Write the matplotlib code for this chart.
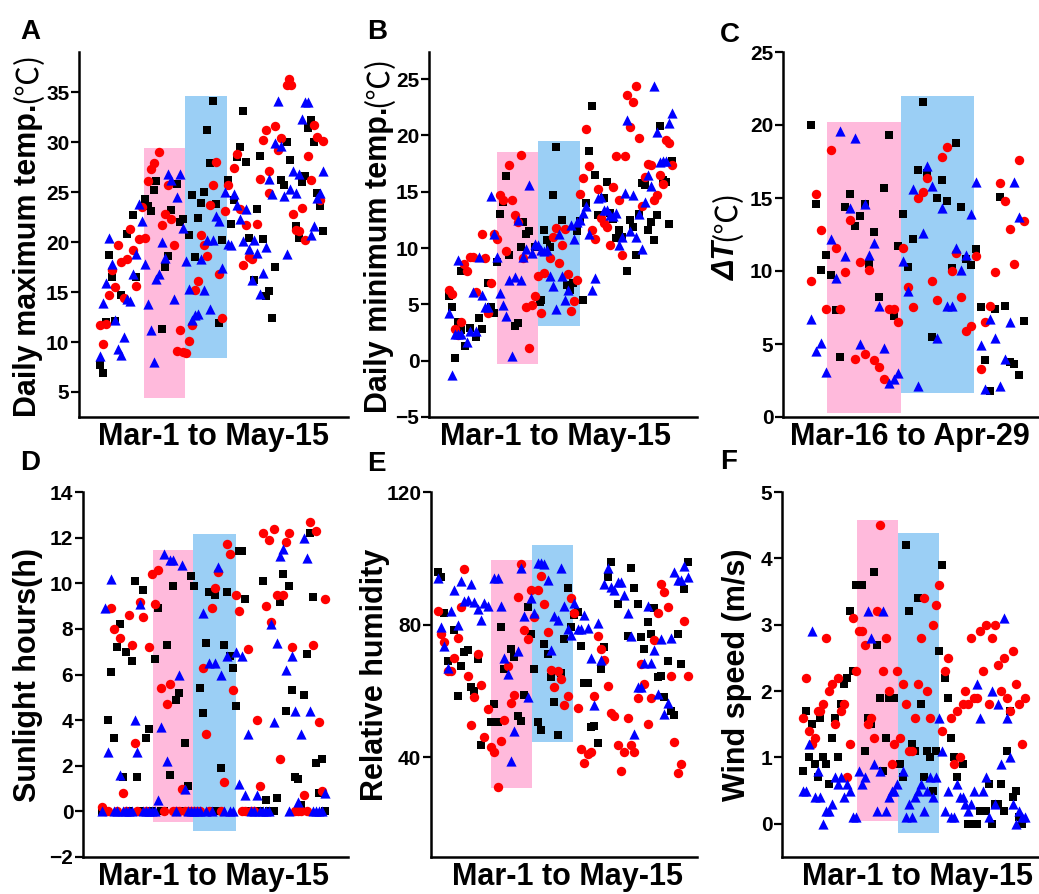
import matplotlib
matplotlib.use("Agg")
import matplotlib.pyplot as plt

plt.rcParams["font.family"] = ["Liberation Sans", "DejaVu Sans"]
plt.rcParams["font.weight"] = "bold"

# ---- A: daily maximum temperature, (day, value) ----
a_black = [(0, 7.7), (1, 6.9), (2, 12.0), (3, 18.7), (4, 16.5), (5, 12.1), (7, 14.7), (9, 20.8),
           (11, 22.7), (12, 16.5), (15, 24.3), (16, 23.6), (17, 23.1), (18, 25.2), (19, 26.1),
           (21, 11.3), (22, 17.5), (23, 18.6), (24, 23.2), (26, 25.8), (27, 22.0), (28, 22.3),
           (30, 20.7), (31, 24.7), (32, 18.5), (33, 22.4), (34, 23.9), (35, 25.0), (36, 31.2),
           (37, 27.9), (38, 34.1), (39, 23.8), (40, 11.9), (41, 20.2), (43, 26.2), (44, 21.8),
           (45, 24.2), (46, 28.5), (47, 29.5), (48, 33.1), (49, 28.0), (50, 20.4), (52, 16.2),
           (53, 23.3), (54, 28.6), (55, 20.3), (56, 14.6), (57, 15.1), (58, 12.4), (59, 17.5),
           (61, 26.2), (62, 25.7), (63, 30.0), (64, 28.2), (66, 21.6), (67, 20.4), (68, 26.0),
           (69, 26.6), (70, 31.4), (71, 32.2), (72, 30.0), (73, 24.9), (74, 23.6), (75, 21.1)]
a_red = [(0, 11.7), (1, 9.8), (2, 11.8), (3, 14.7), (4, 17.2), (5, 15.5), (6, 19.7), (7, 18.0),
         (8, 14.4), (9, 18.3), (10, 21.3), (11, 19.2), (12, 15.6), (13, 20.3), (14, 23.5),
         (15, 20.4), (16, 26.1), (17, 27.3), (18, 27.9), (20, 29.0), (21, 21.7), (22, 22.8),
         (23, 25.7), (24, 22.3), (25, 19.7), (26, 9.1), (27, 11.2), (28, 9.0), (29, 8.9),
         (30, 10.1), (31, 11.7), (32, 15.2), (33, 16.1), (34, 20.7), (35, 19.7), (36, 18.6),
         (37, 23.7), (38, 25.7), (39, 28.0), (40, 16.8), (41, 12.4), (42, 23.1), (43, 25.7),
         (45, 27.4), (46, 28.8), (47, 23.3), (48, 17.7), (49, 21.7), (50, 18.5), (51, 18.3),
         (53, 21.8), (54, 26.3), (55, 30.2), (56, 31.2), (57, 27.1), (57, 24.9), (59, 31.6),
         (60, 29.2), (61, 30.4), (63, 35.7), (63.5, 36.3), (64.2, 35.7), (65, 22.8), (66, 21.2),
         (67, 21.1), (68, 23.4), (69, 20.2), (70, 28.6), (71, 26.2), (72, 31.7), (73, 30.5),
         (74, 24.2), (75, 30.1)]
a_blue = [(0, 8.6), (1, 13.9), (2, 15.9), (3, 20.4), (4, 17.8), (5, 12.2), (6, 9.3), (7, 8.7),
          (8, 10.5), (9, 14.3), (10, 14.1), (11, 16.8), (12, 18.8), (13, 23.8), (14, 22.1),
          (15, 17.8), (16, 13.8), (17, 11.2), (18, 8.0), (19, 16.3), (20, 16.8), (21, 20.0),
          (22, 18.4), (23, 26.8), (24, 26.2), (25, 14.3), (26, 24.5), (27, 26.8), (28, 21.4),
          (29, 18.1), (30, 15.3), (31, 12.2), (32, 12.7), (33, 12.8), (34, 18.3), (35, 15.2),
          (36, 20.2), (37, 13.3), (38, 20.2), (39, 22.6), (40, 22.1), (41, 17.4), (42, 25.0),
          (43, 19.8), (44, 19.7), (45, 24.8), (46, 23.7), (47, 22.3), (48, 20.1), (49, 23.3),
          (50, 19.3), (51, 16.2), (52, 20.2), (53, 18.9), (54, 14.8), (55, 16.9), (56, 19.5),
          (57, 26.3), (58, 24.8), (59, 29.9), (60, 34.1), (61, 29.6), (62, 24.6), (63, 18.8),
          (64, 25.3), (65, 27.1), (66, 24.9), (67, 26.8), (68, 32.3), (69, 34.0), (70, 34.0),
          (71, 20.7), (72, 21.6), (73, 24.4), (74, 24.9), (75, 27.1)]

# ---- B: daily minimum temperature ----
b_black = [(0, 5.7), (1, 4.8), (2, 0.2), (3, 3.4), (4, 2.7), (4, 8.0), (5.4, 1.3), (7, 2.9),
           (9, 2.1), (10, 3.8), (11, 2.8), (13, 6.9), (14, 4.8), (15, 4.2), (16, 8.8), (17, 13.0),
           (18, 14.1), (19, 16.4), (20, 9.4), (22, 3.1), (23, 3.3), (24, 10.1), (25, 12.3),
           (26, 11.2), (27, 11.5), (29, 10.1), (30.5, 5.2), (31, 5.4), (32, 11.6), (33, 10.7),
           (34, 10.1), (35, 14.7), (36, 19.0), (38, 12.5), (39.5, 6.7), (40.6, 6.3), (41.8, 6.9),
           (43, 11.5), (44, 12.4), (45, 5.4), (46, 14.0), (47, 18.6), (48, 22.6), (49, 16.5),
           (50, 12.9), (52, 14.4), (53, 15.9), (54, 13.1), (55, 12.6), (56, 10.9), (57, 11.6),
           (58, 11.0), (60, 8.0), (61, 12.5), (62, 11.9), (63, 9.4), (64, 13.0), (65, 15.8),
           (66, 15.6), (67, 11.6), (68, 12.3), (69, 10.7), (70, 12.9), (71, 20.8), (72, 16.0),
           (73, 15.9), (74, 12.1), (75, 17.7)]
b_red = [(0, 6.3), (1, 5.9), (2, 2.8), (3, 2.3), (4, 3.4), (5, 8.6), (6, 8.0), (7, 9.2), (8, 9.2),
         (9, 6.1), (11, 11.2), (12, 9.1), (13, 4.2), (14, 6.9), (15, 11.2), (16, 10.8), (17, 14.7),
         (18, 14.3), (19, 9.7), (20, 17.4), (21, 14.3), (22, 12.9), (23, 12.3), (24, 18.3),
         (25, 9.1), (26, 4.8), (27, 1.1), (28, 4.9), (29, 5.7), (30, 7.5), (31, 4.2), (32, 7.8),
         (34, 9.1), (35, 11.0), (36, 11.8), (37, 8.7), (38, 10.3), (39, 11.7), (40, 7.7),
         (41, 4.4), (42, 5.3), (43, 7.2), (44, 14.8), (45, 16.2), (46, 20.6), (47, 17.3),
         (48, 11.6), (49, 10.8), (50, 15.2), (51, 12.7), (52, 12.2), (53, 11.9), (54, 10.3),
         (55, 15.4), (56, 18.2), (57, 14.3), (58, 9.4), (59, 18.2), (60, 23.6), (61, 20.7),
         (62, 23.0), (63, 24.4), (64, 19.8), (65, 13.7), (66, 16.3), (67, 17.5), (68, 17.4),
         (69, 14.3), (70, 14.7), (71, 16.5), (72, 15.7), (73, 19.6), (74, 19.3), (75, 17.4)]
b_blue = [(0, 4.2), (1, -1.3), (2, 2.4), (3, 2.4), (3, 8.9), (4, 2.4), (6, 1.7), (7, 2.6), (8, 6.1),
          (9, 2.6), (10, 9.2), (11, 5.8), (12, 4.8), (13, 4.8), (14, 14.6), (15, 11.2), (16, 9.2),
          (17, 6.0), (18, 4.9), (19, 4.0), (20, 7.2), (21, 0.4), (22, 7.4), (23, 12.5), (24, 7.2),
          (25, 9.2), (26, 9.9), (27, 15.6), (28, 9.6), (29, 10.4), (30, 10.3), (31, 9.8),
          (32, 9.7), (33, 9.8), (34, 7.5), (35, 6.6), (36, 4.6), (37, 11.2), (38, 7.5), (39, 5.4),
          (40, 6.3), (41, 12.0), (42, 10.8), (43, 12.3), (44, 12.5), (45, 13.1), (46, 13.7),
          (47, 11.2), (48, 6.3), (49, 7.3), (50, 14.4), (51, 14.5), (52, 13.4), (53, 13.4),
          (54, 12.9), (55, 12.8), (56, 13.1), (57, 10.3), (58, 11.0), (59, 14.9), (60, 21.4),
          (61, 11.5), (62, 14.7), (63, 11.0), (64, 13.0), (65, 9.9), (66, 14.1), (67, 16.5),
          (68, 15.5), (69, 24.4), (70, 20.3), (71, 17.6), (72, 17.7), (73, 17.7), (74, 21.1),
          (75, 22.0)]

# ---- C: diurnal temperature range, Mar-16 to Apr-29 ----
c_black = [(0, 20.0), (1, 14.6), (2, 10.1), (3, 11.1), (4, 9.7), (5, 7.3), (6, 4.1), (7, 14.4),
           (8, 15.3), (9, 13.1), (10, 13.8), (11, 14.6), (12, 10.5), (13, 12.7), (14, 8.2),
           (15, 15.7), (16, 19.3), (17, 6.9), (18, 11.7), (19, 13.9), (20, 10.3), (21, 12.2),
           (22, 16.9), (23, 21.6), (24, 16.7), (25, 5.5), (26, 15.0), (27, 16.2), (28, 14.8),
           (29, 10.2), (30, 18.8), (31, 14.4), (32, 10.8), (33, 10.4), (34, 11.5), (35, 7.5),
           (36, 3.9), (37, 1.8), (38, 7.4), (39, 15.1), (40, 7.6), (41, 3.8), (42, 3.6), (43, 2.9),
           (44, 6.6)]
c_red = [(0, 9.3), (1, 15.3), (2, 12.8), (3, 7.4), (4, 18.3), (5, 11.6), (6, 7.4), (7, 9.9),
         (8, 13.5), (9, 4.0), (10, 10.6), (11, 4.3), (12, 10.1), (13, 3.9), (14, 3.4), (15, 2.6),
         (16, 7.4), (17, 7.4), (18, 6.5), (19, 11.6), (20, 8.9), (21, 7.5), (22, 15.0), (23, 15.4),
         (24, 16.4), (25, 9.3), (26, 8.0), (27, 17.8), (28, 18.5), (29, 10.0), (30, 11.2),
         (31, 8.2), (32, 5.9), (33, 6.2), (34, 11.0), (35, 3.3), (36, 6.5), (37, 7.6), (38, 9.9),
         (39, 16.0), (40, 14.8), (41, 12.9), (42, 10.5), (43, 17.6), (44, 13.4)]
c_blue = [(0, 6.7), (1, 4.5), (2, 5.1), (3, 3.1), (4, 12.2), (5, 9.5), (6, 19.6), (7, 11.0),
          (8, 14.3), (9, 19.1), (10, 5.0), (11, 14.6), (12, 11.1), (13, 11.9), (14, 7.6), (15, 4.7),
          (16, 2.3), (17, 2.6), (18, 3.0), (19, 10.7), (20, 8.6), (21, 15.6), (22, 2.1), (23, 12.6),
          (24, 17.2), (25, 15.8), (26, 5.4), (27, 14.3), (28, 7.6), (29, 7.6), (30, 11.6),
          (31, 10.1), (32, 11.1), (33, 13.9), (34, 16.1), (35, 4.9), (36, 1.9), (37, 6.7),
          (38, 5.4), (39, 2.1), (40, 4.0), (41, 6.5), (42, 16.1), (43, 13.7)]

# ---- D: sunlight hours, one value per day ----
d_black = [0, 0, 4.0, 6.1, 3.2, 7.2, 8.2, 1.5, 7.0, 0, 6.6, 10.1, 1.5, 0, 9.7, 3.2, 3.6, 0, 6.7,
           8.9, 0, 0, 7.3, 1.6, 9.9, 4.9, 5.2, 0, 3.0, 1.1, 10.3, 9.9, 0, 5.4, 4.3, 7.4, 9.6, 0,
           9.5, 0, 1.9, 7.3, 9.6, 6.8, 6.3, 4.6, 11.4, 11.4, 9.3, 0, 0, 0, 0, 0, 10.1, 0.5, 0, 0,
           0, 0.6, 9.2, 10.4, 4.4, 9.9, 5.3, 1.5, 1.4, 0.3, 5.1, 6.9, 12.2, 9.4, 2.1, 0.8, 2.3, 0]
d_red = [0.2, 0, 0, 8.9, 8.0, 0, 7.6, 0.8, 0, 8.6, 7.3, 3.0, 0, 9.2, 8.5, 0, 7.2, 10.4, 9.1,
         10.6, 5.4, 0, 4.7, 5.6, 0, 0, 0, 1.0, 0, 0, 0, 0, 0, 0, 6.3, 3.4, 0, 8.9, 9.8, 10.5, 0,
         1.3, 11.7, 11.3, 5.3, 9.5, 8.8, 0, 0, 7.1, 0, 0, 4.0, 1.1, 12.2, 9.0, 11.9, 8.3, 12.4,
         9.5, 2.3, 9.5, 11.8, 12.2, 7.2, 0, 0, 0, 0.7, 0, 12.7, 7.3, 12.3, 3.9, 0.9, 9.3]
d_blue = [0, 8.9, 2.6, 10.2, 0, 0, 1.6, 0, 0, 0, 0, 4.0, 2.6, 9.1, 0, 0, 0, 0, 0, 0.5, 3.7, 11.3,
          2.2, 11.0, 11.0, 0, 6.0, 10.8, 1.0, 0, 0, 0, 0, 0, 8.7, 0, 6.5, 0, 6.5, 10.7, 6.0, 0,
          6.8, 0, 0, 7.0, 1.2, 6.8, 0.7, 3.4, 0, 0, 0.7, 0, 0, 0, 0, 8.2, 3.9, 7.4, 11.2, 11.5,
          6.2, 0, 6.8, 4.4, 0.4, 3.4, 12.0, 11.1, 4.4, 0, 0, 0, 0, 0.8]

# ---- E: relative humidity ----
e_black = [(0, 95.9), (1, 94.4), (2, 83.4), (3, 69.1), (5, 78.5), (6, 58.6), (7, 67.6), (8, 71.8),
           (9, 72.5), (10, 61.3), (11, 60.1), (12, 69.8), (13, 43.9), (16, 50.7), (17, 56.2),
           (18, 50.7), (19, 79.3), (20, 66.8), (22, 72.8), (23, 70.3), (24, 52.4), (25, 50.9),
           (26, 58.8), (27, 85.2), (28, 77.3), (29, 66.6), (30, 50.7), (31, 48.2), (32, 74.1),
           (33, 71.3), (34, 64.1), (35, 56.7), (36, 46.7), (37, 65.5), (38, 75.6), (39, 91.2),
           (40, 79.3), (41, 82.9), (42, 83.9), (43, 73.6), (44, 62.3), (45, 62.3), (46, 49.2),
           (47, 49.5), (48, 44.5), (49, 66.6), (50, 73.3), (51, 94.4), (52, 98.9), (54, 86.2),
           (57, 76.6), (58, 97.1), (59, 91.2), (60, 86.2), (61, 76.3), (62, 72.8), (63, 80.8),
           (64, 77.3), (65, 84.9), (66, 64.1), (67, 64.6), (68, 58.3), (69, 69.1), (70, 54.0),
           (71, 52.7), (72, 77.3), (73, 68.3), (74, 90.9), (75, 98.9)]
e_red = [(0, 84.2), (1, 77.3), (2, 74.8), (3, 66.0), (4, 66.0), (5, 70.1), (6, 76.1), (7, 85.4),
         (8, 96.7), (9, 64.6), (10, 49.9), (11, 58.1), (12, 71.1), (13, 61.8), (14, 46.2),
         (15, 54.7), (16, 43.2), (17, 41.7), (18, 31.0), (19, 45.0), (20, 51.4), (21, 67.6),
         (22, 56.5), (23, 58.9), (24, 88.4), (25, 98.2), (26, 78.5), (27, 75.8), (28, 90.6),
         (29, 82.3), (30, 90.4), (31, 94.6), (32, 86.2), (33, 77.8), (34, 66.3), (35, 61.3),
         (36, 66.1), (37, 63.5), (38, 55.7), (39, 58.5), (40, 88.2), (41, 83.6), (42, 55.0),
         (43, 42.4), (44, 38.2), (45, 41.0), (46, 41.7), (47, 58.5), (48, 76.6), (49, 72.8),
         (50, 69.3), (51, 61.5), (52, 53.4), (53, 52.4), (54, 43.7), (55, 35.9), (56, 41.7),
         (57, 51.9), (58, 43.7), (59, 41.7), (60, 57.8), (61, 68.3), (62, 62.1), (63, 50.2),
         (64, 57.8), (65, 75.5), (66, 83.4), (67, 92.4), (68, 89.9), (69, 85.4), (70, 64.4),
         (71, 44.7), (72, 35.2), (73, 38.0), (74, 81.1), (75, 64.4)]
e_blue = [(0, 94.2), (1, 79.3), (2, 73.5), (3, 67.1), (4, 84.2), (5, 90.6), (6, 80.0), (7, 93.1),
          (8, 87.2), (9, 87.6), (10, 92.2), (11, 86.9), (12, 84.6), (13, 81.3), (14, 86.4),
          (15, 85.6), (17, 94.2), (18, 94.2), (19, 85.7), (20, 70.1), (21, 65.1), (22, 39.0),
          (23, 48.0), (24, 72.1), (25, 97.1), (26, 82.6), (27, 58.3), (28, 88.2), (29, 83.4),
          (30, 98.6), (31, 98.6), (32, 98.4), (33, 93.6), (34, 72.5), (35, 82.6), (36, 81.5),
          (37, 97.1), (38, 85.6), (39, 78.8), (40, 76.8), (41, 86.4), (42, 78.8), (43, 78.8),
          (44, 82.9), (45, 79.1), (46, 70.1), (47, 55.7), (48, 80.5), (49, 69.5), (50, 92.4),
          (51, 97.1), (52, 91.4), (53, 90.6), (54, 92.9), (55, 92.9), (56, 88.9), (57, 83.6),
          (58, 76.5), (59, 47.2), (60, 61.3), (61, 61.1), (62, 68.5), (63, 85.6), (64, 68.5),
          (65, 72.5), (66, 59.1), (67, 75.8), (68, 53.0), (69, 56.4), (70, 76.1), (71, 95.9),
          (72, 93.6), (73, 93.6), (74, 97.6), (75, 94.4)]

# ---- F: wind speed ----
f_black = [(0, 0.8), (1, 1.7), (2, 1.0), (3, 1.5), (4, 0.9), (5, 0.7), (6, 1.6), (7, 1.0), (8, 0.9),
           (9, 0.6), (10, 1.3), (11, 1.6), (12, 1.0), (13, 1.8), (14, 2.1), (15, 2.2), (16, 3.2),
           (17, 2.3), (18, 3.6), (19, 3.6), (20, 3.6), (21, 1.1), (22, 1.6), (23, 1.5), (24, 3.8),
           (25, 2.7), (26, 1.9), (27, 0.8), (28, 1.3), (29, 1.9), (31, 1.9), (33, 0.9), (34, 0.7),
           (35, 4.2), (36, 3.2), (37, 1.2), (38, 1.1), (39, 3.4), (40, 1.8), (41, 0.7), (42, 1.1),
           (43, 1.0), (44, 0.5), (45, 1.1), (46, 2.6), (47, 3.9), (48, 2.2), (49, 1.9), (50, 1.3),
           (51, 1.0), (52, 0.7), (54, 0.9), (56, 0), (57, 0), (59, 0), (60, 0.2), (61, 0.2),
           (62, 0.2), (63, 0.6), (64, 0), (65, 0.3), (66, 0.3), (67, 0.6), (68, 0.2), (69, 1.1),
           (70, 1.7), (71, 0.4), (72, 0.5), (73, 0.1), (74, 0)]
f_red = [(0, 1.6), (1, 2.2), (2, 1.4), (3, 1.2), (4, 1.3), (5, 1.7), (6, 1.7), (7, 1.8), (8, 2.8),
         (9, 2.0), (10, 2.1), (11, 1.5), (12, 2.2), (13, 1.7), (14, 1.8), (15, 0.7), (16, 1.2),
         (17, 3.1), (18, 2.3), (19, 2.9), (20, 2.9), (21, 2.7), (22, 1.5), (23, 1.6), (24, 1.3),
         (25, 3.2), (26, 4.5), (27, 2.3), (28, 2.8), (29, 2.0), (30, 0.9), (31, 1.2), (32, 2.3),
         (33, 1.3), (34, 2.1), (35, 1.8), (36, 1.1), (37, 1.1), (38, 1.6), (39, 2.1), (40, 2.8),
         (41, 3.4), (42, 2.0), (43, 1.6), (44, 3.0), (45, 3.3), (46, 3.6), (47, 1.4), (48, 2.3),
         (49, 2.5), (50, 1.6), (51, 0.9), (52, 1.7), (53, 1.0), (54, 1.8), (55, 2.0), (56, 1.8),
         (57, 2.8), (58, 1.9), (59, 1.9), (60, 2.9), (61, 2.3), (62, 3.0), (63, 1.8), (64, 2.8),
         (65, 3.0), (66, 2.4), (67, 2.0), (68, 2.5), (69, 1.9), (70, 1.7), (71, 2.6), (72, 2.1),
         (73, 1.8), (74, 1.2), (75, 1.9)]
f_blue = [(0, 0.5), (1, 0.5), (2, 1.2), (3, 2.9), (4, 0.4), (5, 0.8), (6, 0.4), (7, 0), (8, 0.2),
          (9, 0.2), (10, 0.3), (11, 0.7), (12, 0.6), (13, 0.7), (14, 0.4), (15, 0.6), (16, 0.5),
          (17, 0.1), (18, 0.1), (19, 0.8), (20, 0.6), (21, 0.7), (22, 3.2), (23, 2.8), (24, 0.9),
          (25, 0.2), (26, 0.8), (27, 3.2), (28, 0.2), (29, 0.4), (30, 0.5), (31, 0.5), (32, 0.6),
          (34, 0.8), (35, 0.1), (36, 0.3), (37, 0.1), (38, 0.4), (39, 0.5), (40, 0.6), (41, 0.2),
          (42, 0.5), (43, 0.7), (44, 0.4), (45, 0.7), (46, 1.6), (47, 1.1), (48, 0.2), (49, 0.5),
          (50, 0.1), (51, 0.1), (52, 0.6), (53, 0.4), (54, 0.4), (55, 0.3), (56, 0.2), (57, 0.3),
          (58, 0.5), (59, 2.1), (60, 1.6), (61, 0.5), (62, 0.7), (63, 0.1), (64, 2.0), (65, 0.3),
          (66, 1.8), (67, 0.9), (68, 3.1), (69, 1.6), (70, 1.0), (71, 0.3), (72, 0), (73, 0.2),
          (74, 0.1), (75, 0.1)]

# shaded periods per panel: (day_start, day_end, low, high)
pink_spans = {"A": (14.8, 28.6, 4.4, 29.4), "B": (16.2, 29.8, -0.3, 18.5), "C": (3.3, 18.6, 0.25, 20.2),
              "D": (17.1, 30.8, -0.45, 11.45), "E": (16.0, 28.3, 30.8, 99.4), "F": (18.5, 32.2, 0.05, 4.58)}
blue_spans = {"A": (28.6, 42.6, 8.4, 34.6), "B": (29.8, 44.0, 3.1, 19.5), "C": (18.6, 33.7, 1.65, 22.0),
              "D": (30.8, 45.1, -0.85, 12.15), "E": (28.3, 40.7, 44.7, 104.1), "F": (32.2, 46.2, -0.14, 4.38)}

W, H = 1039, 894
fig = plt.figure(figsize=(W / 100, H / 100), dpi=100)
renderer = fig.canvas.get_renderer()

BOLD = dict(fontsize=22, fontweight="bold")
ITAL = dict(fontsize=22, fontweight="bold", fontstyle="italic")
CJK = dict(fontsize=22, fontweight="normal", family=["Noto Sans CJK SC", "DejaVu Sans"])


def px_axes(left, right, top, bottom):
    return fig.add_axes([left / W, 1 - bottom / H, (right - left) / W, (bottom - top) / H])


def ylabel_parts(x, yc, parts):
    # rotated label made of pieces stacked bottom-to-top, centred on yc (pixels from top)
    texts = [fig.text(0, 0, s, rotation=90, ha="center", va="bottom", **kw) for s, kw in parts]
    heights = [t.get_window_extent(renderer).height for t in texts]
    y = (H - yc) - sum(heights) / 2
    for t, h in zip(texts, heights):
        t.set_position((x / W, y / H))
        y += h


def panel(key, box, black, red, blue, xlim, ylim, yticks, ylabel, ylab_x, xlabel, xlab_x, letter_xy):
    ax = px_axes(*box)
    for span, col in ((pink_spans[key], "#FFBADC"), (blue_spans[key], "#9BCFF5")):
        x0, x1, y0, y1 = span
        ax.bar((x0 + x1) / 2, y1 - y0, width=x1 - x0, bottom=y0, color=col, linewidth=0, zorder=0)
    for pts, mk, col, size in ((black, "s", "black", 34), (red, "o", "red", 46), (blue, "^", "blue", 54)):
        xs = [p[0] for p in pts]
        ys = [p[1] for p in pts]
        ax.scatter(xs, ys, marker=mk, c=col, s=size, linewidths=0, zorder=2)
    ax.set_xlim(*xlim)
    ax.set_ylim(*ylim)
    ax.set_yticks(yticks)
    ax.set_xticks([])
    for s in ("top", "right"):
        ax.spines[s].set_visible(False)
    for s in ("left", "bottom"):
        ax.spines[s].set_linewidth(1.8)
    ax.tick_params(axis="y", direction="out", length=6, width=1.6, labelsize=15, pad=1)
    for lab in ax.get_yticklabels():
        lab.set_fontweight("bold")
    top, bottom = box[2], box[3]
    ylabel_parts(ylab_x, (top + bottom) / 2, ylabel)
    fig.text(xlab_x / W, 1 - (bottom + 20) / H, xlabel, ha="center", va="center", **BOLD)
    fig.text(letter_xy[0] / W, 1 - letter_xy[1] / H, key, ha="center", va="center",
             fontsize=20, fontweight="bold")
    return ax


panel("A", (79, 348, 52, 417), a_black, a_red, a_blue, (-7.1, 83.5), (2.5, 39), range(5, 36, 5),
      [("Daily maximum temp.", BOLD), ("(℃)", CJK)], 28, "Mar-1 to May-15", 213, (30, 32))
panel("B", (429, 697, 52, 417), b_black, b_red, b_blue, (-6.8, 83.4), (-5, 27.4), range(-5, 26, 5),
      [("Daily minimum temp.", BOLD), ("(℃)", CJK)], 379, "Mar-1 to May-15", 556, (377, 32))
panel("C", (783, 1038, 52, 417), c_black, c_red, c_blue, (-5.9, 46.9), (0, 25), range(0, 26, 5),
      [("ΔT", ITAL), ("(℃)", CJK)], 727, "Mar-16 to Apr-29", 910, (730, 35))
panel("D", (83, 348, 492, 857), list(enumerate(d_black)), list(enumerate(d_red)), list(enumerate(d_blue)),
      (-6.3, 82.7), (-2, 14), range(-2, 15, 2),
      [("Sunlight hours(h)", BOLD)], 28, "Mar-1 to May-15", 213, (30, 463))
panel("E", (431, 697, 492, 857), e_black, e_red, e_blue, (-2.0, 77.8), (10, 120), [40, 80, 120],
      [("Relative humidity", BOLD)], 375, "Mar-1 to May-15", 567, (376, 464))
panel("F", (782, 1038, 492, 857), f_black, f_red, f_blue, (-7.0, 79.5), (-0.5, 5), range(0, 6),
      [("Wind speed (m/s)", BOLD)], 737, "Mar-1 to May-15", 917, (729, 462))

fig.savefig("out.png", dpi=100)
